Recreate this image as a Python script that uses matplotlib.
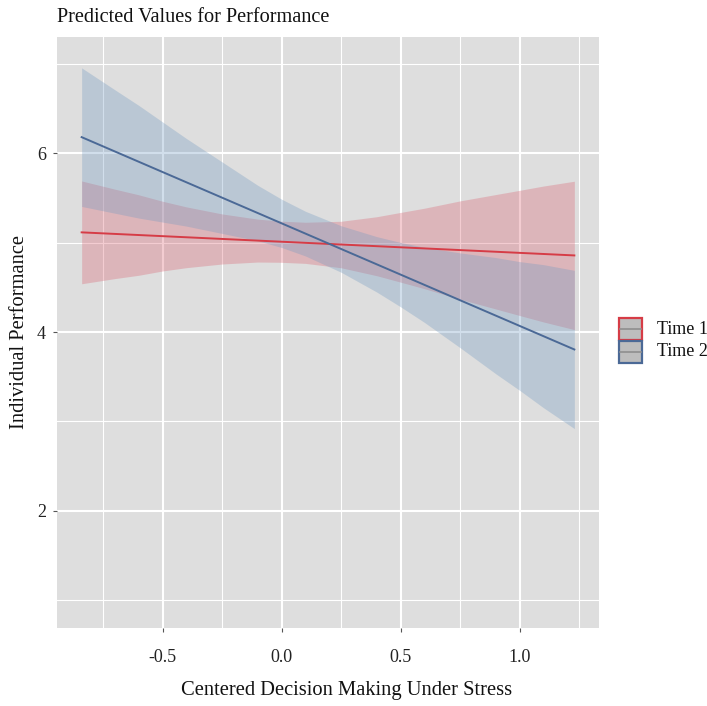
import matplotlib
matplotlib.use("Agg")
import matplotlib.pyplot as plt
from matplotlib.patches import Rectangle
from matplotlib.lines import Line2D

# ---- data ----
x_vals = [-0.84, -0.7, -0.6, -0.5, -0.4, -0.25, -0.1, 0.0, 0.1, 0.25,
          0.4, 0.5, 0.6, 0.75, 0.9, 1.0, 1.1, 1.23]

time1_fit = [5.115, 4.857]  # fitted line at the two x ends
time1_lo = [4.540, 4.598, 4.635, 4.683, 4.720, 4.761, 4.783, 4.780, 4.768, 4.719,
            4.630, 4.558, 4.485, 4.367, 4.258, 4.185, 4.113, 4.027]
time1_hi = [5.690, 5.598, 5.535, 5.463, 5.400, 5.321, 5.263, 5.240, 5.228, 5.239,
            5.290, 5.338, 5.385, 5.467, 5.538, 5.585, 5.633, 5.687]

time2_fit = [6.18, 3.805]  # fitted line at the two x ends
time2_lo = [5.405, 5.329, 5.275, 5.230, 5.185, 5.103, 5.021, 4.946, 4.851, 4.669,
            4.447, 4.282, 4.108, 3.825, 3.533, 3.348, 3.154, 2.920]
time2_hi = [6.955, 6.709, 6.535, 6.350, 6.165, 5.903, 5.641, 5.486, 5.351, 5.189,
            5.067, 5.002, 4.948, 4.885, 4.833, 4.788, 4.754, 4.690]

series_names = ["Time 1", "Time 2"]
x_ticks = [-0.5, 0.0, 0.5, 1.0]
x_tick_labels = ["-0.5", "0.0", "0.5", "1.0"]
y_ticks = [2, 4, 6]
y_tick_labels = ["2", "4", "6"]
x_minor = [-0.75, -0.25, 0.25, 0.75, 1.25]
y_minor = [1, 3, 5, 7]

title = "Predicted Values for Performance"
xlabel = "Centered Decision Making Under Stress"
ylabel = "Individual Performance"

# ---- style ----
W, H = 707, 706
plt.rcParams['font.family'] = ['Liberation Serif', 'DejaVu Serif']
fig = plt.figure(figsize=(W / 100, H / 100), dpi=100)
fig.patch.set_facecolor("white")

pl, pr, pt, pb = 57, 599, 37, 628
ax = fig.add_axes([pl / W, 1 - pb / H, (pr - pl) / W, (pb - pt) / H])
ax.set_facecolor("#DEDEDE")

red_line = "#D63C46"
red_fill = "#DA6171"
blue_line = "#4B6996"
blue_fill = "#7199C1"

xmin, xmax = min(x_vals), max(x_vals)
xr = xmax - xmin
ax.set_xlim(xmin - 0.05 * xr, xmax + 0.05 * xr)
ax.set_ylim(0.69, 7.30)

for v in x_minor:
    ax.axvline(v, color="white", lw=0.8, zorder=0.5)
for v in y_minor:
    ax.axhline(v, color="white", lw=0.8, zorder=0.5)
for v in x_ticks:
    ax.axvline(v, color="white", lw=1.5, zorder=0.6)
for v in y_ticks:
    ax.axhline(v, color="white", lw=1.5, zorder=0.6)

ax.fill_between(x_vals, time1_lo, time1_hi, color=red_fill, alpha=0.32, lw=0, zorder=1)
ax.fill_between(x_vals, time2_lo, time2_hi, color=blue_fill, alpha=0.32, lw=0, zorder=1)
ax.plot([x_vals[0], x_vals[-1]], time1_fit, color=red_line, lw=1.4, zorder=2)
ax.plot([x_vals[0], x_vals[-1]], time2_fit, color=blue_line, lw=1.4, zorder=2)

ax.set_xticks(x_ticks)
ax.set_xticklabels(x_tick_labels)
ax.set_yticks(y_ticks)
ax.set_yticklabels(y_tick_labels)
ax.tick_params(axis="both", length=3, width=0.8, color="#555555", labelsize=13,
               labelcolor="#222222")
ax.tick_params(axis="x", pad=12)
ax.tick_params(axis="y", pad=5)
for s in ax.spines.values():
    s.set_visible(False)

fig.text(pl / W, 1 - 18 / H, title, fontsize=14.6, ha="left", va="center", color="#111111")
fig.text(347 / W, 1 - 690 / H, xlabel, fontsize=14.8, ha="center", va="center", color="#111111")
fig.text(20 / W, 1 - 332 / H, ylabel, fontsize=14.8, ha="center", va="center",
         rotation=90, color="#111111")

# legend (drawn in figure pixel coordinates)
leg_items = [(series_names[0], red_line), (series_names[1], blue_line)]
kx, kw, kh = 619, 23, 22
ky0 = 318
for i, (name, col) in enumerate(leg_items):
    ky = ky0 + i * (kh + 1)
    fig.add_artist(Rectangle((kx / W, 1 - (ky + kh) / H), kw / W, kh / H,
                             transform=fig.transFigure, facecolor="#BDBDBD",
                             edgecolor=col, lw=1.6))
    fig.add_artist(Line2D([(kx + 1) / W, (kx + kw - 1) / W],
                          [1 - (ky + kh / 2) / H, 1 - (ky + kh / 2) / H],
                          transform=fig.transFigure, color="#8F8F8F", lw=1.2))
    fig.text((kx + kw + 15) / W, 1 - (ky + kh / 2) / H, name, fontsize=13,
             ha="left", va="center", color="#111111")

fig.savefig("out.png", dpi=100)
